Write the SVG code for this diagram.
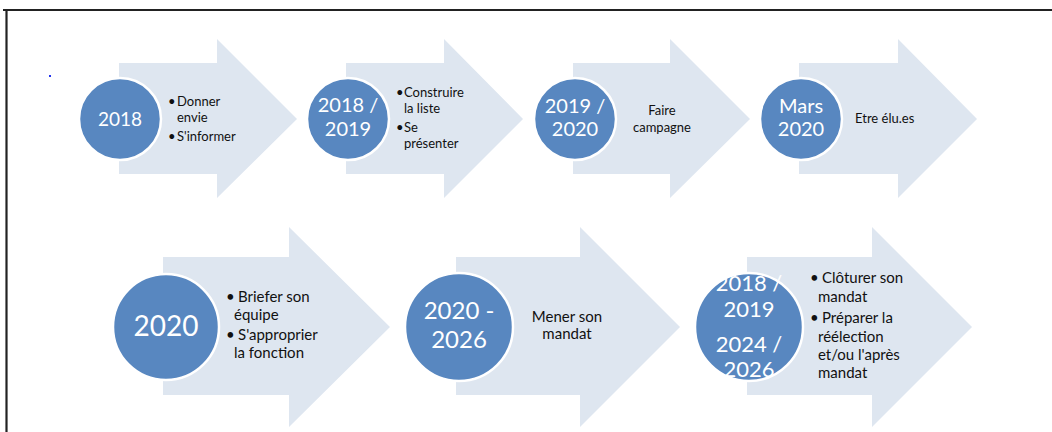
<svg xmlns="http://www.w3.org/2000/svg" width="1052" height="432" viewBox="0 0 1052 432">
<style>
.arrow{fill:#dee6f0}
.circ{fill:#5887c0;stroke:#ffffff;stroke-width:2.5}
.yr{fill:#ffffff;font-family:Lato,"Liberation Sans",sans-serif;text-anchor:middle}
.tx{fill:#111111;font-family:Lato,"Liberation Sans",sans-serif}
.c{text-anchor:middle}
</style>
<rect width="1052" height="432" fill="#ffffff"/>
<g id="frame">
<line x1="3" y1="10" x2="1052" y2="10" stroke="#222" stroke-width="2.2"/>
<line x1="6.5" y1="9" x2="6.5" y2="432" stroke="#222" stroke-width="2.2"/>
<rect x="49" y="75" width="2" height="2" fill="#2233ee"/>
</g>
<g id="connectors"></g>
<g id="n1">
<polygon class="arrow" points="119,63 217,63 217,39 297,119 217,198 217,174 119,174"/>
<circle class="circ" cx="120" cy="119" r="41"/>
<text class="yr" x="120" y="126" font-size="19">2018</text>
<text class="tx" font-size="13"><tspan x="168" y="106">•</tspan><tspan x="177" y="106">Donner</tspan><tspan x="177" y="122">envie</tspan><tspan x="168" y="141">•</tspan><tspan x="177" y="141">S'informer</tspan></text>
</g>
<g id="n2">
<polygon class="arrow" points="346,63 444,63 444,39 523,119 444,198 444,174 346,174"/>
<circle class="circ" cx="348" cy="119" r="41"/>
<text class="yr" font-size="20"><tspan x="348" y="112">2018 /</tspan><tspan x="348" y="136">2019</tspan></text>
<text class="tx" font-size="13"><tspan x="396" y="97">•</tspan><tspan x="404" y="97">Construire</tspan><tspan x="404" y="113">la liste</tspan><tspan x="396" y="132">•</tspan><tspan x="404" y="132">Se</tspan><tspan x="404" y="148">présenter</tspan></text>
</g>
<g id="n3">
<polygon class="arrow" points="573,63 670,63 670,39 750,119 670,198 670,174 573,174"/>
<circle class="circ" cx="575" cy="119" r="41"/>
<text class="yr" font-size="20"><tspan x="575" y="113">2019 /</tspan><tspan x="575" y="136">2020</tspan></text>
<text class="tx c" font-size="13"><tspan x="662" y="115">Faire</tspan><tspan x="662" y="132">campagne</tspan></text>
</g>
<g id="n4">
<polygon class="arrow" points="799,63 898,63 898,39 977,119 898,198 898,174 799,174"/>
<circle class="circ" cx="801" cy="119" r="41"/>
<text class="yr" font-size="20"><tspan x="801" y="113">Mars</tspan><tspan x="801" y="136">2020</tspan></text>
<text class="tx" font-size="13" x="855" y="123">Etre élu.es</text>
</g>
<g id="n5">
<polygon class="arrow" points="163,257 289,257 289,227 390,327 289,427 289,395 163,395"/>
<circle class="circ" cx="166" cy="327" r="53"/>
<text class="yr" x="166" y="336" font-size="28">2020</text>
<text class="tx" font-size="15"><tspan x="226" y="302">•</tspan><tspan x="238" y="302">Briefer son</tspan><tspan x="234" y="320">équipe</tspan><tspan x="226" y="340">•</tspan><tspan x="238" y="340">S'approprier</tspan><tspan x="234" y="358">la fonction</tspan></text>
</g>
<g id="n6">
<polygon class="arrow" points="456,257 580,257 580,227 680,327 580,427 580,395 456,395"/>
<circle class="circ" cx="459" cy="327" r="54"/>
<text class="yr" font-size="24"><tspan x="459" y="319">2020 -</tspan><tspan x="459" y="348">2026</tspan></text>
<text class="tx c" font-size="15"><tspan x="567" y="322">Mener son</tspan><tspan x="567" y="339">mandat</tspan></text>
</g>
<g id="n7">
<polygon class="arrow" points="747,257 872,257 872,227 972,327 872,427 872,395 747,395"/>
<circle class="circ" cx="749" cy="327" r="54"/>
<text class="yr" font-size="22"><tspan x="749" y="291">2018 /</tspan><tspan x="749" y="317">2019</tspan><tspan x="749" y="352">2024 /</tspan><tspan x="749" y="377">2026</tspan></text>
<text class="tx" font-size="15"><tspan x="810" y="283">•</tspan><tspan x="822" y="283">Clôturer son</tspan><tspan x="818" y="302">mandat</tspan><tspan x="810" y="323">•</tspan><tspan x="822" y="323">Préparer la</tspan><tspan x="818" y="342">réélection</tspan><tspan x="818" y="360">et/ou l'après</tspan><tspan x="818" y="378">mandat</tspan></text>
</g>
</svg>
